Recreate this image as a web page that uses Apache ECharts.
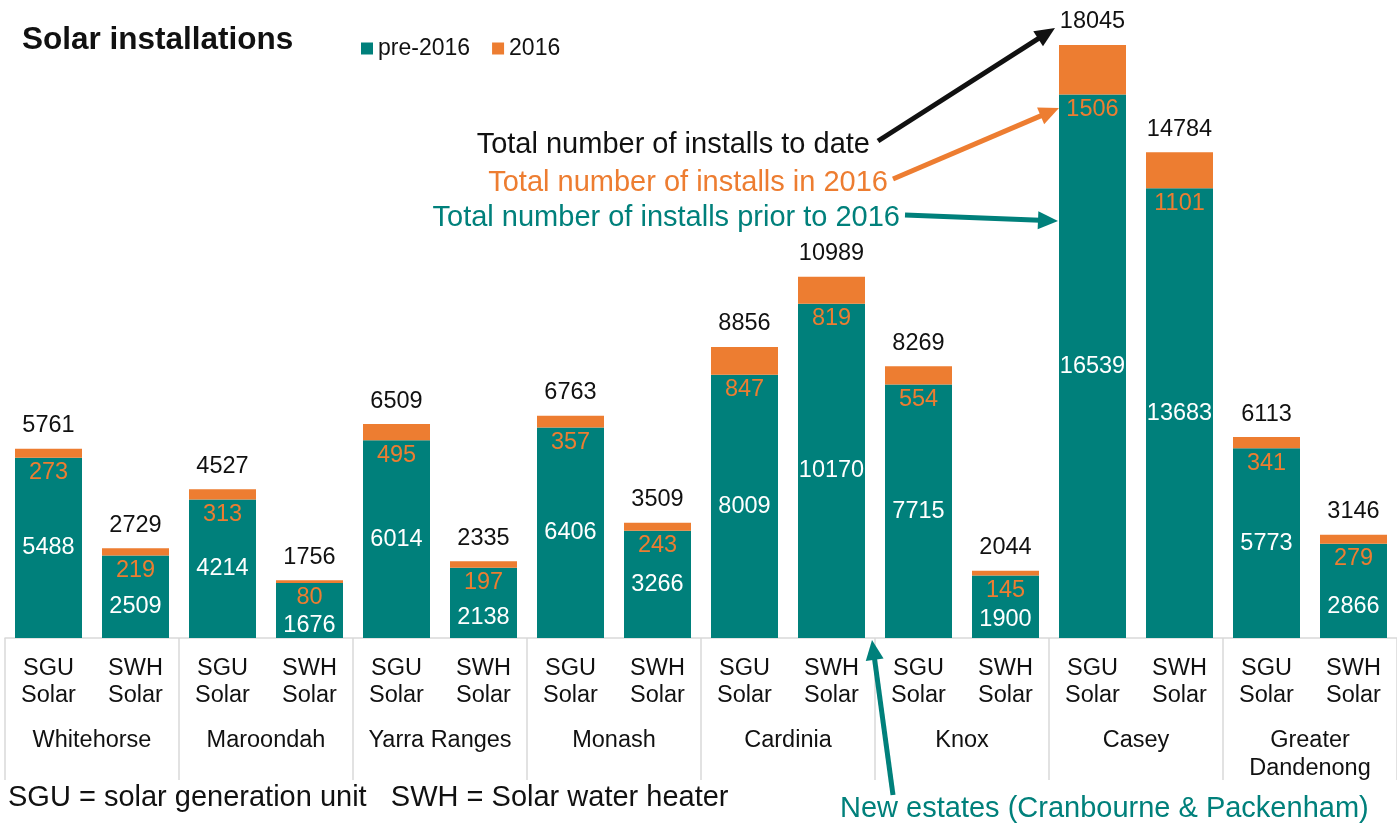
<!DOCTYPE html>
<html><head><meta charset="utf-8">
<script src="https://cdn.jsdelivr.net/npm/echarts@6/dist/echarts.min.js"></script>
<style>html,body{margin:0;padding:0;background:#fff}#c{width:1397px;height:823px}</style>
</head><body><div id="c"></div>
<script>
const regions = ['Whitehorse','Maroondah','Yarra Ranges','Monash','Cardinia','Knox','Casey','Greater\nDandenong'];
const types = ['SGU\nSolar','SWH\nSolar','SGU\nSolar','SWH\nSolar','SGU\nSolar','SWH\nSolar','SGU\nSolar','SWH\nSolar','SGU\nSolar','SWH\nSolar','SGU\nSolar','SWH\nSolar','SGU\nSolar','SWH\nSolar','SGU\nSolar','SWH\nSolar'];
const pre2016 = [5488,2509,4214,1676,6014,2138,6406,3266,8009,10170,7715,1900,16539,13683,5773,2866];
const in2016  = [273,219,313,80,495,197,357,243,847,819,554,145,1506,1101,341,279];
const totals  = [5761,2729,4527,1756,6509,2335,6763,3509,8856,10989,8269,2044,18045,14784,6113,3146];
// downward nudge (px) of the pre-2016 labels on short bars, as placed in the original
const preLabelNudge = [0,10,0,15,0,15,0,0,0,0,0,13,0,0,0,16];

const TEAL = '#00807B', ORANGE = '#ED7D31', BLACK = '#111111';
const FONT = "'Liberation Sans', Arial, sans-serif";
const LBL = 23.5;

function arrow(x1,y1,x2,y2,color,w){
  const dx=x2-x1, dy=y2-y1, L=Math.hypot(dx,dy), ux=dx/L, uy=dy/L;
  const hl=20, hw=9;
  const bx=x2-ux*hl, by=y2-uy*hl;
  return [
    {type:'line', shape:{x1:x1,y1:y1,x2:bx+ux*2,y2:by+uy*2}, style:{stroke:color,lineWidth:w}, z:50},
    {type:'polygon', shape:{points:[[x2,y2],[bx-uy*hw,by+ux*hw],[bx+uy*hw,by-ux*hw]]}, style:{fill:color}, z:50}
  ];
}
function txt(x,y,text,size,color,align,bold){
  return {type:'text', x:x, y:y, z:60, style:{text:text, fill:color, align:align, verticalAlign:'middle',
    font:(bold?'bold ':'')+size+'px '+FONT}};
}

const chart = echarts.init(document.getElementById('c'));
const graphics = [
  txt(22,40,'Solar installations',31.5,BLACK,'left',true),
  txt(870,145,'Total number of installs to date',29,BLACK,'right'),
  txt(888,183,'Total number of installs in 2016',29,ORANGE,'right'),
  txt(900,218,'Total number of installs prior to 2016',29,TEAL,'right'),
  txt(8,798,'SGU = solar generation unit   SWH = Solar water heater',29,BLACK,'left'),
  txt(840,809,'New estates (Cranbourne & Packenham)',29,TEAL,'left'),
  ...arrow(878,141,1055,28,BLACK,5),
  ...arrow(893,179,1059,108,ORANGE,5),
  ...arrow(905,215,1058,221,TEAL,5),
  ...arrow(893,795,872,640,TEAL,5)
];

chart.setOption({
  animation:false,
  textStyle:{fontFamily:FONT},
  legend:{left:356, top:32, itemWidth:12, itemHeight:12, itemGap:22, icon:'rect',
    textStyle:{fontSize:23, color:BLACK, fontFamily:FONT}, data:['pre-2016','2016']},
  grid:{left:5, right:0, top:13.6, bottom:185, containLabel:false},
  xAxis:[
    {type:'category', data:types, position:'bottom',
     axisLine:{show:true, lineStyle:{color:'#d9d9d9', width:1.5}},
     axisTick:{show:false},
     axisLabel:{interval:0, fontSize:LBL, lineHeight:27, color:BLACK, margin:17, fontFamily:FONT}},
    {type:'category', data:regions, position:'bottom',
     axisLine:{show:false},
     axisTick:{show:true, length:142, lineStyle:{color:'#d9d9d9', width:1.5}},
     axisLabel:{interval:0, fontSize:LBL, lineHeight:28, color:BLACK, margin:89, fontFamily:FONT}}
  ],
  yAxis:{type:'value', min:0, max:19000, show:false, splitLine:{show:false}},
  series:[
    {name:'pre-2016', type:'bar', stack:'s', barWidth:67, itemStyle:{color:TEAL},
     data:pre2016.map((v,i)=>({value:v, label:{offset:[0,preLabelNudge[i]]}})),
     label:{show:true, position:'inside', color:'#fff', fontSize:LBL, fontFamily:FONT}},
    {name:'2016', type:'bar', stack:'s', data:in2016, barWidth:67, itemStyle:{color:ORANGE},
     label:{show:true, position:'bottom', distance:3, color:ORANGE, fontSize:LBL, fontFamily:FONT}},
    {name:'total', type:'scatter', data:totals, symbolSize:0, silent:true,
     itemStyle:{opacity:1, color:BLACK},
     label:{show:true, position:'top', distance:11, color:BLACK, opacity:1, fontSize:LBL, fontFamily:FONT}}
  ],
  graphic:graphics
});
</script></body></html>
